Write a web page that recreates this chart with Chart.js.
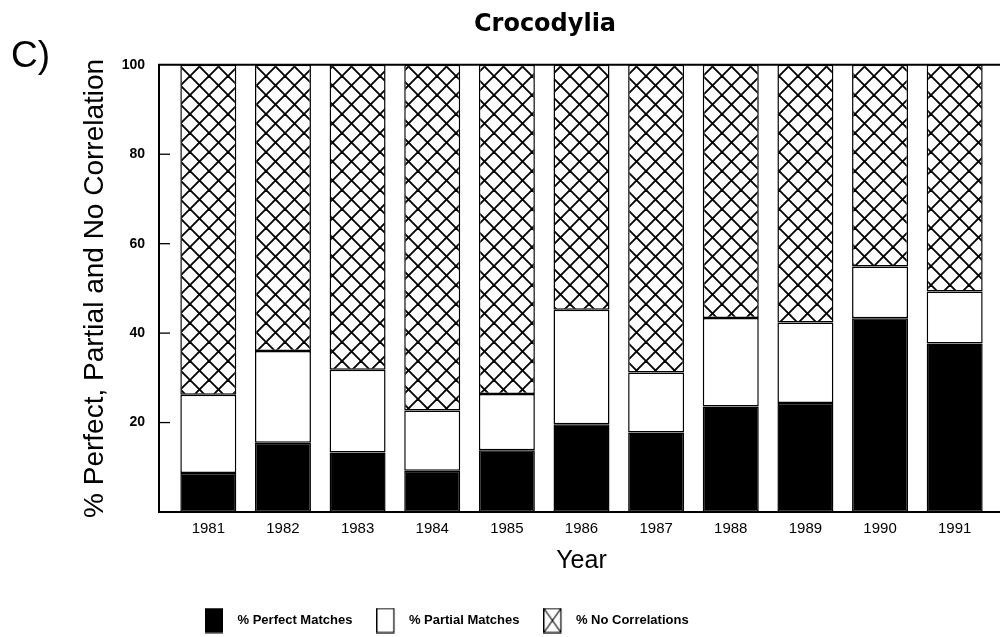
<!DOCTYPE html>
<html>
<head>
<meta charset="utf-8">
<script src="https://cdn.jsdelivr.net/npm/chart.js@4.4.1/dist/chart.umd.min.js"></script>
<style>
  html, body { margin: 0; padding: 0; background: #fff; }
  #wrap { width: 1000px; height: 637px; position: relative; }
</style>
</head>
<body>
<div id="wrap"><canvas id="chart"></canvas></div>
<script>
const years = ['1981','1982','1983','1984','1985','1986','1987','1988','1989','1990','1991'];
const perfect = [8.7, 15.5, 13.3, 9.2, 13.8, 19.6, 17.8, 23.6, 24.4, 43.3, 37.7];
const partial = [17.5, 20.5, 18.5, 13.5, 12.6, 25.6, 13.4, 19.8, 18.0, 11.6, 11.6];
const noCorr  = [73.8, 64.0, 68.2, 77.3, 73.6, 54.8, 68.8, 56.6, 57.6, 45.1, 50.7];
const yTicks = [20, 40, 60, 80, 100];

const FONT = "'Liberation Sans', Arial, Helvetica, sans-serif";
Chart.defaults.font.family = FONT;
Chart.defaults.color = '#000';

// crosshatch fill
function hatch(){
  const s = 19, c = document.createElement('canvas');
  c.width = s; c.height = s;
  const g = c.getContext('2d');
  g.fillStyle = '#fff'; g.fillRect(0,0,s,s);
  g.strokeStyle = '#000'; g.lineWidth = 1.9;
  for (const d of [-s, 0, s]){
    g.beginPath(); g.moveTo(d-2, -2); g.lineTo(d+s+2, s+2); g.stroke();
    g.beginPath(); g.moveTo(d+s+2, -2); g.lineTo(d-2, s+2); g.stroke();
  }
  return g.createPattern(c, 'repeat');
}
const hatchFill = hatch();

// legend icons
function icon(kind){
  const c = document.createElement('canvas');
  c.width = 26; c.height = 26;
  const g = c.getContext('2d');
  g.strokeStyle = '#000'; g.lineWidth = 1.2;
  if (kind === 'black'){ g.fillStyle = '#000'; g.fillRect(0,0.5,18,25); }
  else {
    g.fillStyle = '#fff'; g.fillRect(0.5,1,17,24); g.strokeRect(0.5,1,17,24);
    if (kind === 'x'){
      g.beginPath(); g.moveTo(0.5,1); g.lineTo(17.5,25); g.moveTo(17.5,1); g.lineTo(0.5,25); g.stroke();
    }
  }
  return c;
}
const icons = [icon('black'), icon('white'), icon('x')];

const frame = {
  id: 'frame',
  afterLayout(chart){
    const lg = chart.legend;
    if (lg && lg.lineWidths){
      const pad = lg.options.labels.padding;
      lg.left = 0;
      lg.right = 2*205 - pad + lg.lineWidths[0];
    }
    const t = chart.titleBlock;
    if (t){ t.left = 98; t.right = 992; }
  },
  afterDatasetsDraw(chart){
    const {ctx, chartArea, scales:{y}} = chart;
    const ax = chartArea.left - 12;
    const y0 = y.getPixelForValue(0), y100 = y.getPixelForValue(100);
    ctx.save();
    ctx.strokeStyle = '#000'; ctx.lineWidth = 2;
    ctx.beginPath();
    ctx.moveTo(chart.width, y100); ctx.lineTo(ax, y100); ctx.lineTo(ax, y0); ctx.lineTo(chart.width, y0);
    ctx.stroke();
    ctx.lineWidth = 1.3;
    for (const v of yTicks.slice(0,-1)){
      const py = y.getPixelForValue(v);
      ctx.beginPath(); ctx.moveTo(ax, py); ctx.lineTo(ax+11, py); ctx.stroke();
    }
    ctx.fillStyle = '#000';
    ctx.font = '37px ' + FONT;
    ctx.textBaseline = 'alphabetic';
    ctx.fillText('C)', 11, 67);
    ctx.restore();
  }
};

new Chart(document.getElementById('chart'), {
  type: 'bar',
  data: {
    labels: years,
    datasets: [
      { label: '% Perfect Matches', data: perfect, backgroundColor: '#000' },
      { label: '% Partial Matches', data: partial, backgroundColor: '#fff' },
      { label: '% No Correlations', data: noCorr, backgroundColor: hatchFill }
    ].map(d => Object.assign(d, { borderColor: '#000', borderWidth: 1.5, borderSkipped: false,
      barPercentage: 0.75, categoryPercentage: 1 }))
  },
  options: {
    responsive: true,
    maintainAspectRatio: false,
    animation: false,
    layout: { padding: { left: 78, right: 8, top: 0, bottom: 0 } },
    plugins: {
      title: {
        display: true, text: 'Crocodylia', color: '#000',
        font: { family: "'DejaVu Sans', sans-serif", size: 24, weight: 'bold', lineHeight: 1.2 },
        padding: { top: 10, bottom: 26 }
      },
      legend: {
        position: 'bottom',
        labels: {
          usePointStyle: true, pointStyleWidth: 26, padding: 24, color: '#000',
          font: { size: 13, weight: 'bold' },
          generateLabels(chart){
            return chart.data.datasets.map((d, i) => ({
              text: d.label, pointStyle: icons[i], fillStyle: '#000', strokeStyle: '#000',
              lineWidth: 0, hidden: false, datasetIndex: i, fontColor: '#000'
            }));
          }
        }
      },
      tooltip: { enabled: false }
    },
    scales: {
      x: {
        stacked: true,
        grid: { display: false, drawTicks: false },
        border: { display: false },
        ticks: { padding: 8, font: { size: 15 }, color: '#000', maxRotation: 0 },
        title: { display: true, text: 'Year', font: { size: 25 }, color: '#000', padding: { top: 0, bottom: 14 } },
        afterFit(s){ s.height = 78; }
      },
      y: {
        stacked: true, min: 0, max: 100,
        grid: { display: false, drawTicks: false },
        border: { display: false },
        afterBuildTicks(s){ s.ticks = [0].concat(yTicks).map(v => ({ value: v })); },
        ticks: { padding: 26, font: { size: 14, weight: 'bold' }, color: '#000',
          callback: v => v === 0 ? '' : v },
        title: { display: true, text: '% Perfect, Partial and No Correlation', font: { size: 28 }, color: '#000', padding: { top: 0, bottom: 0 } },
        afterFit(s){ s.width = 93; }
      }
    }
  },
  plugins: [frame]
});
</script>
</body>
</html>
